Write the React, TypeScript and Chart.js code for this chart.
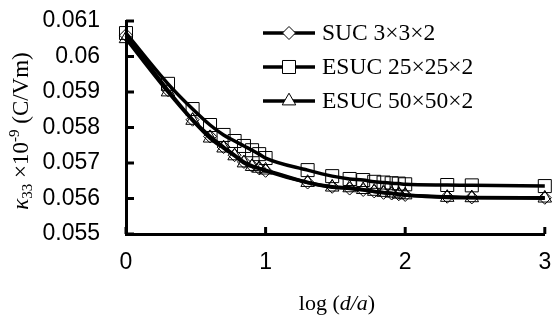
import React, { useEffect, useRef } from "react";
import { Chart, registerables } from "chart.js";

Chart.register(...registerables);

const logDA = [0, 0.301, 0.477, 0.602, 0.699, 0.778, 0.845, 0.903, 0.954, 1, 1.301, 1.477, 1.602, 1.699, 1.778, 1.845, 1.903, 1.954, 2, 2.301, 2.477, 3];
const suc3 = [0.0606, 0.05905, 0.05822, 0.05775, 0.05745, 0.05722, 0.05703, 0.05692, 0.05685, 0.05678, 0.05645, 0.05633, 0.05628, 0.05624, 0.0562, 0.05616, 0.05614, 0.05612, 0.0561, 0.05605, 0.05603, 0.05602];
const esuc25 = [0.06066, 0.05923, 0.05852, 0.05807, 0.05779, 0.05762, 0.05748, 0.05736, 0.05725, 0.05714, 0.0568, 0.05663, 0.05655, 0.05652, 0.05647, 0.05645, 0.05643, 0.05642, 0.0564, 0.05638, 0.05637, 0.05635];
const esuc50 = [0.0605, 0.059, 0.0582, 0.0577, 0.05742, 0.0572, 0.057, 0.0569, 0.05685, 0.0568, 0.05645, 0.05632, 0.0563, 0.05625, 0.0562, 0.05617, 0.05615, 0.05612, 0.0561, 0.05603, 0.05602, 0.05601];
const seriesNames = ["SUC 3×3×2", "ESUC 25×25×2", "ESUC 50×50×2"];
const yTicks = [0.055, 0.056, 0.057, 0.058, 0.059, 0.06, 0.061];
const xTicks = [0, 1, 2, 3];

const SERIF = "'Liberation Serif', 'Times New Roman', serif";
const SANS = "'Liberation Sans', Arial, sans-serif";

function drawMarker(ctx: CanvasRenderingContext2D, style: string, x: number, y: number, r: number) {
  ctx.beginPath();
  if (style === "rect") {
    const s = r * Math.SQRT1_2;
    ctx.rect(x - s, y - s, 2 * s, 2 * s);
  } else if (style === "rectRot") {
    ctx.moveTo(x, y - r);
    ctx.lineTo(x + r, y);
    ctx.lineTo(x, y + r);
    ctx.lineTo(x - r, y);
    ctx.closePath();
  } else {
    ctx.moveTo(x, y - r);
    ctx.lineTo(x + r * Math.sin((2 * Math.PI) / 3), y - r * Math.cos((2 * Math.PI) / 3));
    ctx.lineTo(x + r * Math.sin((4 * Math.PI) / 3), y - r * Math.cos((4 * Math.PI) / 3));
    ctx.closePath();
  }
  ctx.fillStyle = "#fff";
  ctx.fill();
  ctx.stroke();
}

const decor = {
  id: "decor",
  afterDraw(chart: any) {
    const ctx: CanvasRenderingContext2D = chart.ctx;
    const xs = chart.scales.x;
    const ys = chart.scales.y;
    const area = chart.chartArea;
    ctx.save();
    ctx.strokeStyle = "#000";
    ctx.lineWidth = 3;
    ctx.lineCap = "butt";
    // inner ticks
    yTicks.forEach((v) => {
      const py = ys.getPixelForValue(v);
      ctx.beginPath();
      ctx.moveTo(area.left, py);
      ctx.lineTo(area.left + 8, py);
      ctx.stroke();
    });
    xTicks.forEach((v) => {
      const px = xs.getPixelForValue(v);
      ctx.beginPath();
      ctx.moveTo(px, area.bottom);
      ctx.lineTo(px, area.bottom - 7);
      ctx.stroke();
    });

    // legend
    const styles = ["rectRot", "rect", "triangle"];
    const radii = [6.5, 9.2, 7.8];
    const rows = [33, 67, 101];
    for (let i = 0; i < 3; i++) {
      const yy = rows[i];
      ctx.lineWidth = 3.5;
      ctx.beginPath();
      ctx.moveTo(263, yy);
      ctx.lineTo(315, yy);
      ctx.stroke();
      ctx.lineWidth = 1;
      drawMarker(ctx, styles[i], 289, yy, radii[i]);
      ctx.fillStyle = "#000";
      ctx.font = `23.5px ${SERIF}`;
      ctx.textAlign = "left";
      ctx.textBaseline = "middle";
      ctx.fillText(seriesNames[i], 322, yy + 1);
    }

    // x title
    ctx.textBaseline = "alphabetic";
    ctx.fillStyle = "#000";
    const parts: [string, string][] = [
      ["log (", `22px ${SERIF}`],
      ["d/a", `italic 22px ${SERIF}`],
      [")", `22px ${SERIF}`],
    ];
    let total = 0;
    parts.forEach(([t, f]) => {
      ctx.font = f;
      total += ctx.measureText(t).width;
    });
    let cx = 337 - total / 2;
    parts.forEach(([t, f]) => {
      ctx.font = f;
      ctx.textAlign = "left";
      ctx.fillText(t, cx, 310);
      cx += ctx.measureText(t).width;
    });

    // y title
    ctx.save();
    ctx.translate(28, 131);
    ctx.rotate(-Math.PI / 2);
    const yparts: [string, string, number][] = [
      ["κ", `italic 23px ${SERIF}`, 0],
      ["33", `15px ${SERIF}`, 4],
      [" ×10", `23px ${SERIF}`, 0],
      ["-9", `15px ${SERIF}`, -9],
      [" (C/Vm)", `23px ${SERIF}`, 0],
    ];
    let tot = 0;
    yparts.forEach(([t, f]) => {
      ctx.font = f;
      tot += ctx.measureText(t).width;
    });
    let sx = -tot / 2;
    yparts.forEach(([t, f, dy]) => {
      ctx.font = f;
      ctx.textAlign = "left";
      ctx.fillText(t, sx, dy);
      sx += ctx.measureText(t).width;
    });
    ctx.restore();
    ctx.restore();
  },
};

export default function App() {
  const ref = useRef<HTMLCanvasElement>(null);
  useEffect(() => {
    if (!ref.current) return;
    const mk = (vals: number[]) => logDA.map((x, i) => ({ x, y: vals[i] }));
    const common = {
      borderColor: "#000",
      borderWidth: 3.5,
      pointBorderColor: "#000",
      pointBackgroundColor: "rgba(0,0,0,0)",
      pointBorderWidth: 1,
      cubicInterpolationMode: "monotone" as const,
      fill: false,
      clip: false as any,
      borderJoinStyle: "round" as const,
    };
    const chart = new Chart(ref.current, {
      type: "line",
      data: {
        datasets: [
          { ...common, label: seriesNames[0], data: mk(suc3), pointStyle: "rectRot", pointRadius: 6.5 },
          { ...common, label: seriesNames[1], data: mk(esuc25), pointStyle: "rect", pointRadius: 9.2 },
          { ...common, label: seriesNames[2], data: mk(esuc50), pointStyle: "triangle", pointRadius: 7.8 },
        ],
      },
      options: {
        animation: false,
        responsive: false,
        devicePixelRatio: 1,
        layout: { padding: { left: 0, top: 21, right: 5, bottom: 0 } },
        plugins: { legend: { display: false }, tooltip: { enabled: false } },
        scales: {
          x: {
            type: "linear",
            min: 0,
            max: 3,
            grid: { display: false, drawTicks: false },
            border: { display: true, color: "#000", width: 3 },
            ticks: {
              stepSize: 1,
              padding: 15,
              color: "#000",
              font: { family: SANS, size: 23 },
              maxRotation: 0,
            },
            afterFit: (s: any) => {
              s.height = 86;
              s.paddingLeft = 0;
              s.paddingRight = 0;
            },
          },
          y: {
            type: "linear",
            min: 0.055,
            max: 0.061,
            grid: { display: false, drawTicks: false },
            border: { display: true, color: "#000", width: 3 },
            ticks: {
              stepSize: 0.001,
              padding: 26,
              color: "#000",
              font: { family: SANS, size: 23 },
              callback: (v: any) => String(parseFloat(Number(v).toFixed(3))),
            },
            afterFit: (s: any) => {
              s.width = 126;
              s.paddingTop = 0;
              s.paddingBottom = 0;
            },
          },
        },
      },
      plugins: [decor],
    });
    return () => chart.destroy();
  }, []);
  return (
    <div style={{ position: "absolute", left: 0, top: 0, width: 555, height: 320, background: "#fff" }}>
      <canvas ref={ref} width={555} height={320} style={{ display: "block", width: 555, height: 320 }} />
    </div>
  );
}
